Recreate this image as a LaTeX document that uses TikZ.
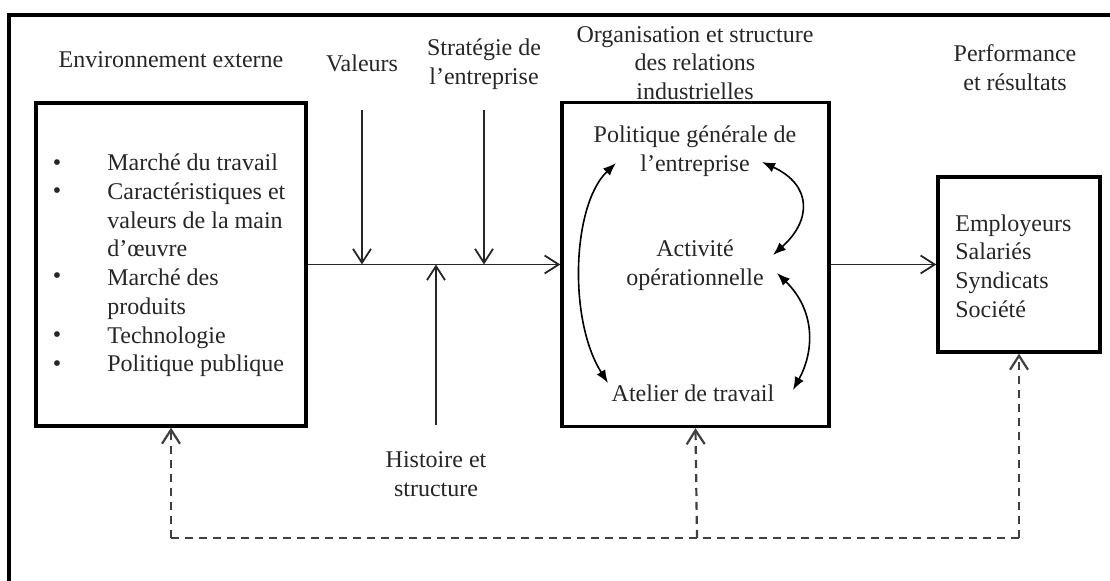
\documentclass[tikz,border=0pt]{standalone}
\usepackage{fontspec}
\setmainfont{Liberation Serif}
\usetikzlibrary{arrows.meta}
\tikzstyle{txt}=[font=\fontsize{12}{14.36}\selectfont, text=black!85, inner sep=0pt, align=center]
\tikzstyle{box}=[draw, line width=1.7pt, inner sep=0pt]
\tikzstyle{arr}=[line width=0.9pt, black!85, -{Straight Barb[length=7pt,width=9pt]}]
\tikzstyle{fbarr}=[line width=1.1pt, black!75, dash pattern=on 4pt off 3pt, -{Straight Barb[length=7pt,width=9pt]}]
\tikzstyle{cycarr}=[line width=0.8pt, {Latex[length=6.5pt,width=5pt]}-{Latex[length=6.5pt,width=5pt]}]

\begin{document}
\begin{tikzpicture}[x=0.5pt, y=-0.5pt]
            \useasboundingbox (0,0) rectangle (1110,581);
            %%%%% cadre
            \draw[line width=1.7pt] (9,620) -- (9,15) -- (1140,15);

            %%%%% titres
            \node[txt] (env) at (171,60) {Environnement externe};
            \node[txt] (val) at (362,63) {Valeurs};
            \node[txt] (strat) at (484,64) {Stratégie de\\l’entreprise};
            \node[txt] (org) at (695,63) {Organisation et structure\\des relations\\industrielles};
            \node[txt] (perf) at (1015,68) {Performance\\et résultats};

            %%%%% environnement externe
            \node[box, minimum width=135pt, minimum height=161.5pt] (ext) at (171,264.5) {};
            \node[txt, align=left, anchor=west] (extlist) at (107,265.5) {Marché du travail\\Caractéristiques et\\valeurs de la main\\d’œuvre\\Marché des\\produits\\Technologie\\Politique publique};
            \foreach \y in {165,193,278,337,366}
                \node[txt] at (57,\y) {\textbullet};

            %%%%% relations industrielles
            \node[box, minimum width=133.5pt, minimum height=162pt] (rel) at (695.5,264.5) {};
            \node[txt] (pol) at (695,151) {Politique générale de\\l’entreprise};
            \node[txt] (act) at (695,265) {Activité\\opérationnelle};
            \node[txt] (atel) at (693,393) {Atelier de travail};

            %%%%% performance
            \node[box, minimum width=81pt, minimum height=87.5pt] (perfbox) at (1019,264.5) {};
            \node[txt, align=left, anchor=west] (acteurs) at (955,266) {Employeurs\\Salariés\\Syndicats\\Société};

            %%%%% histoire
            \node[txt] (hist) at (436,474) {Histoire et\\structure};

            %%%%% fleches
            \coordinate (vtop) at (362,110);
            \coordinate (vj) at (362,264.5);
            \coordinate (stop) at (484,110);
            \coordinate (sj) at (484,264.5);
            \coordinate (hbot) at (436,425);
            \coordinate (hj) at (436,264.5);
            \draw[line width=0.9pt, black!85] (ext.east) -- (vj);
            \draw[arr] (vj) -- (rel.west);
            \draw[arr] (vtop) -- (vj);
            \draw[arr] (stop) -- (sj);
            \draw[arr] (hbot) -- (hj);
            \draw[arr] (rel.east) -- (perfbox.west);

            %%%% cycle
            \coordinate (p1) at (616,163);
            \coordinate (p2) at (762,162);
            \coordinate (a1) at (773,255);
            \coordinate (a2) at (777,273);
            \coordinate (t1) at (608,383);
            \coordinate (t2) at (793,390);
            \draw[cycarr] (p1) .. controls (572,205) and (568,320) .. (t1);
            \draw[cycarr] (p2) .. controls (812,185) and (812,220) .. (a1);
            \draw[cycarr] (a2) .. controls (815,310) and (815,350) .. (t2);

            %%%% retour
            \coordinate (fbl) at (171,538);
            \coordinate (fbm) at (697,538);
            \coordinate (fbr) at (1019,538);
            \draw[fbarr] (fbl) -- (ext.south);
            \draw[fbarr] (fbm) -- (rel.south);
            \draw[fbarr] (fbr) -- (perfbox.south);
            \draw[line width=1.1pt, black!75, dash pattern=on 4pt off 3pt] (fbl) -- (fbr);
        \end{tikzpicture}
\end{document}
